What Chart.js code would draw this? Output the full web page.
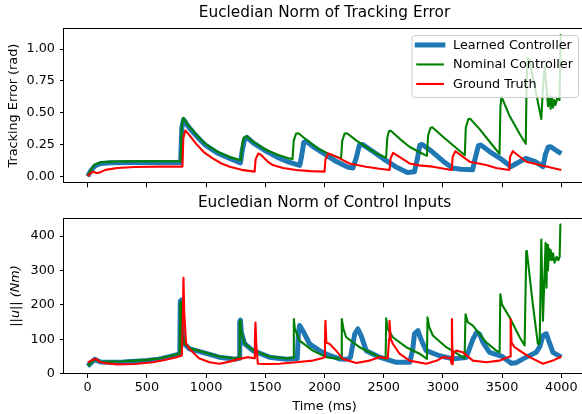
<!DOCTYPE html>
<html>
<head>
<meta charset="utf-8">
<script src="https://cdn.jsdelivr.net/npm/chart.js@4.4.0/dist/chart.umd.min.js"></script>
<style>
  html, body { margin: 0; padding: 0; background: #fff; overflow: hidden; }
  body { width: 582px; height: 414px; position: relative; }
  canvas { position: absolute; left: 0; }
  #errorChart { top: 0; }
  #inputChart { top: 190px; }
</style>
</head>
<body>
<canvas id="errorChart" width="600" height="196"></canvas>
<canvas id="inputChart" width="600" height="224"></canvas>
<script>
const FONT = 'DejaVu Sans';
const TIME_TICKS = [0, 500, 1000, 1500, 2000, 2500, 3000, 3500, 4000];
const ERROR_TICKS = [0, 0.25, 0.5, 0.75, 1.0];
const INPUT_TICKS = [0, 100, 200, 300, 400];
const SERIES_LABELS = ['Learned Controller', 'Nominal Controller', 'Ground Truth'];

// [time (ms), value]
const learnedError = [
  [0, 0], [25, 0.04], [60, 0.08], [110, 0.1], [200, 0.105], [400, 0.108], [600, 0.108], [785, 0.108],
  [795, 0.38], [810, 0.445], [850, 0.39], [900, 0.335], [950, 0.285], [1000, 0.24], [1100, 0.18],
  [1200, 0.14], [1290, 0.105], [1305, 0.2], [1325, 0.29], [1345, 0.305], [1400, 0.26], [1500, 0.2],
  [1600, 0.15], [1700, 0.11], [1790, 0.085], [1805, 0.15], [1825, 0.265], [1845, 0.275], [1900, 0.235],
  [2000, 0.175], [2100, 0.115], [2200, 0.07], [2240, 0.065], [2270, 0.15], [2295, 0.245], [2320, 0.25],
  [2400, 0.2], [2500, 0.135], [2600, 0.075], [2700, 0.03], [2760, 0.035], [2785, 0.14], [2805, 0.245],
  [2825, 0.25], [2900, 0.2], [3000, 0.12], [3080, 0.065], [3150, 0.055], [3250, 0.05], [3275, 0.15],
  [3300, 0.24], [3320, 0.245], [3400, 0.19], [3500, 0.13], [3575, 0.075], [3620, 0.1], [3700, 0.14],
  [3780, 0.115], [3845, 0.075], [3865, 0.17], [3890, 0.23], [3910, 0.232], [3960, 0.2], [4000, 0.178],
];
const nominalError = [
  [0, 0], [25, 0.045], [60, 0.09], [110, 0.11], [200, 0.115], [400, 0.118], [600, 0.118], [785, 0.118],
  [795, 0.4], [808, 0.46], [850, 0.4], [900, 0.345], [950, 0.295], [1000, 0.25], [1100, 0.19],
  [1200, 0.15], [1295, 0.125], [1305, 0.25], [1320, 0.305], [1340, 0.315], [1400, 0.27], [1500, 0.21],
  [1600, 0.17], [1700, 0.14], [1730, 0.135], [1740, 0.28], [1760, 0.335], [1780, 0.338], [1850, 0.285],
  [1950, 0.215], [2050, 0.17], [2140, 0.14], [2150, 0.28], [2170, 0.335], [2190, 0.338], [2270, 0.28],
  [2350, 0.23], [2440, 0.178], [2520, 0.145], [2530, 0.3], [2545, 0.355], [2560, 0.358], [2640, 0.29],
  [2720, 0.23], [2800, 0.19], [2865, 0.16], [2875, 0.32], [2895, 0.38], [2910, 0.385], [3000, 0.31],
  [3090, 0.24], [3185, 0.165], [3193, 0.38], [3215, 0.45], [3230, 0.452], [3310, 0.37], [3400, 0.265],
  [3478, 0.175], [3486, 0.55], [3495, 0.625], [3560, 0.48], [3650, 0.33], [3700, 0.255], [3706, 0.7],
  [3715, 0.93], [3730, 0.92], [3831, 0.45], [3845, 0.7], [3860, 0.86], [3888, 0.55], [3900, 0.63],
  [3910, 0.53], [3920, 0.62], [3930, 0.54], [3940, 0.6], [3950, 0.56], [3965, 0.61], [3985, 0.6],
  [3995, 1.11], [4000, 1.11],
];
const groundError = [
  [0, 0], [20, 0.02], [45, 0.036], [75, 0.025], [100, 0.028], [150, 0.05], [250, 0.065], [400, 0.072],
  [600, 0.075], [800, 0.075], [808, 0.3], [825, 0.36], [870, 0.31], [915, 0.256], [980, 0.19],
  [1056, 0.14], [1130, 0.1], [1200, 0.075], [1300, 0.05], [1410, 0.036], [1418, 0.13], [1440, 0.178],
  [1460, 0.17], [1520, 0.115], [1563, 0.088], [1650, 0.065], [1760, 0.049], [1880, 0.04], [2000, 0.036],
  [2008, 0.13], [2030, 0.178], [2060, 0.17], [2127, 0.14], [2211, 0.1], [2350, 0.075], [2450, 0.06],
  [2550, 0.049], [2558, 0.14], [2580, 0.184], [2610, 0.165], [2718, 0.1], [2800, 0.085], [2915, 0.075],
  [3000, 0.06], [3075, 0.049], [3082, 0.15], [3105, 0.197], [3130, 0.18], [3225, 0.114], [3366, 0.088],
  [3450, 0.065], [3560, 0.049], [3567, 0.15], [3590, 0.197], [3620, 0.175], [3704, 0.114], [3817, 0.088],
  [3900, 0.07], [4000, 0.049],
];

const learnedInput = [
  [0, 22], [30, 32], [60, 42], [80, 38], [110, 34], [200, 33], [300, 34], [400, 36], [500, 38], [600, 42],
  [700, 50], [770, 57], [778, 60], [782, 210], [790, 214], [798, 120], [815, 87], [860, 72], [970, 62],
  [1110, 48], [1250, 42], [1280, 45], [1284, 150], [1290, 156], [1298, 120], [1325, 87], [1395, 67],
  [1535, 48], [1680, 42], [1770, 44], [1780, 120], [1790, 140], [1817, 125], [1873, 87], [1958, 67],
  [2042, 53], [2127, 43], [2200, 42], [2220, 48], [2255, 115], [2282, 130], [2310, 110], [2352, 67],
  [2465, 48], [2606, 33], [2720, 33], [2745, 70], [2760, 116], [2789, 125], [2815, 100], [2859, 67],
  [2971, 52], [3084, 43], [3197, 47], [3253, 100], [3285, 120], [3310, 115], [3338, 91], [3394, 62],
  [3500, 50], [3577, 30], [3620, 32], [3676, 43], [3789, 62], [3820, 80], [3845, 111], [3873, 116],
  [3900, 90], [3929, 62], [4000, 48],
];
const nominalInput = [
  [0, 22], [30, 32], [60, 42], [80, 38], [110, 34], [200, 35], [300, 36], [400, 38], [500, 40], [600, 44],
  [700, 52], [770, 58], [778, 62], [782, 205], [790, 210], [798, 120], [815, 87], [860, 74], [970, 64],
  [1110, 50], [1250, 44], [1280, 46], [1284, 150], [1290, 155], [1298, 120], [1325, 88], [1395, 68],
  [1535, 50], [1680, 44], [1735, 47], [1741, 159], [1750, 130], [1789, 96], [1901, 67], [2014, 48],
  [2127, 43], [2141, 45], [2146, 159], [2160, 130], [2183, 106], [2296, 77], [2437, 53], [2516, 43],
  [2521, 161], [2535, 130], [2577, 106], [2690, 77], [2803, 58], [2865, 43], [2870, 164], [2885, 135],
  [2915, 111], [3028, 77], [3183, 45], [3191, 173], [3210, 150], [3253, 140], [3366, 91], [3451, 67],
  [3479, 62], [3485, 231], [3500, 200], [3563, 164], [3648, 106], [3690, 82], [3704, 357], [3709, 355],
  [3760, 200], [3802, 87], [3817, 87], [3831, 390], [3845, 154], [3867, 381], [3875, 250], [3880, 375],
  [3887, 300], [3895, 365], [3900, 330], [3910, 360], [3920, 330], [3930, 350], [3943, 323], [3960, 340],
  [3975, 330], [3986, 340], [3992, 434], [4000, 434],
];
const groundInput = [
  [0, 33], [40, 40], [70, 43], [100, 35], [130, 31], [250, 27], [400, 28], [550, 33], [650, 40], [750, 48],
  [795, 53], [803, 150], [809, 279], [815, 180], [831, 87], [860, 72], [940, 45], [1028, 33], [1113, 29],
  [1200, 35], [1282, 43], [1350, 48], [1405, 45], [1412, 100], [1417, 149], [1425, 80], [1437, 29],
  [1520, 28], [1620, 29], [1760, 33], [1901, 38], [1980, 45], [2000, 48], [2004, 100], [2008, 154],
  [2016, 90], [2042, 87], [2098, 67], [2155, 43], [2268, 31], [2380, 38], [2465, 48], [2535, 45],
  [2545, 100], [2549, 154], [2560, 100], [2577, 87], [2634, 58], [2718, 38], [2859, 29], [2950, 38],
  [3000, 48], [3065, 45], [3072, 30], [3076, 159], [3082, 27], [3090, 60], [3112, 67], [3169, 62],
  [3253, 38], [3366, 33], [3479, 38], [3549, 48], [3568, 50], [3572, 159], [3580, 90], [3605, 77],
  [3648, 67], [3732, 48], [3845, 29], [3929, 38], [4000, 50],
];

const COLORS = ['#1f77b4', '#008000', '#ff0000'];
const WIDTHS = [5, 2.1, 2.1];
const tickFont = { family: FONT, size: 12.8 };
const titleFont = { family: FONT, size: 15.3, weight: 'normal' };

const toPoints = (rows) => rows.map(([x, y]) => ({ x, y }));

function makeDatasets(series) {
  return series.map((rows, i) => ({
    label: SERIES_LABELS[i],
    data: toPoints(rows),
    borderColor: COLORS[i],
    backgroundColor: COLORS[i],
    borderWidth: WIDTHS[i],
    borderJoinStyle: 'round',
    pointRadius: 0,
    fill: false,
    tension: 0,
    order: 3 - i, // ground truth on top, learned underneath
  }));
}

// matplotlib style box around the axes
const frame = {
  id: 'frame',
  afterDatasetsDraw(chart) {
    const { ctx, chartArea: a } = chart;
    ctx.save();
    ctx.strokeStyle = '#000';
    ctx.lineWidth = 1;
    ctx.strokeRect(Math.round(a.left) - 0.5, Math.round(a.top) + 0.5,
      Math.round(a.right - a.left), Math.round(a.bottom - a.top) - 1);
    ctx.restore();
  },
};

// legend drawn inside the axes, upper right
const boxLegend = {
  id: 'boxLegend',
  afterDraw(chart) {
    const { ctx, chartArea: a } = chart;
    const sets = chart.data.datasets;
    ctx.save();
    ctx.font = `${tickFont.size}px "${FONT}"`;
    const textW = Math.max(...sets.map((d) => ctx.measureText(d.label).width));
    const right = a.right - 7;
    const top = a.top + 7;
    const left = right - (5.8 + 25.6 + 10.2 + textW + 5);
    const height = 62;
    ctx.beginPath();
    ctx.roundRect(left + 0.5, top + 0.5, right - left, height, 3);
    ctx.fillStyle = 'rgba(255,255,255,0.8)';
    ctx.fill();
    ctx.strokeStyle = '#cccccc';
    ctx.lineWidth = 1;
    ctx.stroke();
    sets.forEach((d, i) => {
      const y = top + 10 + i * 19.5;
      ctx.beginPath();
      ctx.moveTo(left + 5.8, y);
      ctx.lineTo(left + 5.8 + 25.6, y);
      ctx.strokeStyle = d.borderColor;
      ctx.lineWidth = d.borderWidth;
      ctx.lineCap = 'square';
      ctx.stroke();
      ctx.fillStyle = '#000';
      ctx.textBaseline = 'middle';
      ctx.textAlign = 'left';
      ctx.fillText(d.label, left + 5.8 + 25.6 + 10.2, y + 0.5);
    });
    ctx.restore();
  },
};

function timeAxis(showLabels, height) {
  return {
    type: 'linear',
    min: -200,
    max: 4200,
    afterBuildTicks: (s) => { s.ticks = TIME_TICKS.map((v) => ({ value: v })); },
    afterFit: (s) => { s.height = height; },
    ticks: {
      display: showLabels, font: tickFont, color: '#000', padding: 2, autoSkip: false, maxRotation: 0,
      callback: (v) => String(v),
    },
    grid: { drawOnChartArea: false, color: '#000', tickLength: 4 },
    border: { display: false },
    title: {
      display: showLabels, text: 'Time (ms)', font: tickFont, color: '#000', padding: { top: 0, bottom: 0 },
    },
  };
}

function valueAxis(min, max, ticks, fmt, label, font, pad) {
  return {
    type: 'linear',
    min,
    max,
    afterBuildTicks: (s) => { s.ticks = ticks.map((v) => ({ value: v })); },
    afterFit: (s) => { s.width = 64; },
    ticks: { font: tickFont, color: '#000', padding: 5, callback: fmt },
    grid: { drawOnChartArea: false, color: '#000', tickLength: 4 },
    border: { display: false },
    title: { display: true, text: label, font, color: '#000', padding: { top: pad, bottom: 0 } },
  };
}

function makeChart(id, title, series, xAxis, yAxis, plugins) {
  return new Chart(document.getElementById(id), {
    type: 'line',
    data: { datasets: makeDatasets(series) },
    options: {
      responsive: false,
      animation: false,
      layout: { padding: { left: 0, right: 15, top: 0, bottom: 0 } },
      scales: { x: xAxis, y: yAxis },
      plugins: {
        legend: { display: false },
        tooltip: { enabled: false },
        title: {
          display: true, text: title, font: titleFont, color: '#000', fullSize: false,
          padding: { top: 4, bottom: 5.6 },
        },
      },
    },
    plugins,
  });
}

makeChart('errorChart', 'Eucledian Norm of Tracking Error',
  [learnedError, nominalError, groundError],
  timeAxis(false, 12),
  valueAxis(-0.056, 1.166, ERROR_TICKS, (v) => v.toFixed(2), 'Tracking Error (rad)', tickFont, 5.6),
  [frame, boxLegend]);

makeChart('inputChart', 'Eucledian Norm of Control Inputs',
  [learnedInput, nominalInput, groundInput],
  timeAxis(true, 40),
  valueAxis(-1, 453, INPUT_TICKS, (v) => String(v), '||u|| (Nm)', { ...tickFont, style: 'italic' }, 8),
  [frame]);
</script>
</body>
</html>
